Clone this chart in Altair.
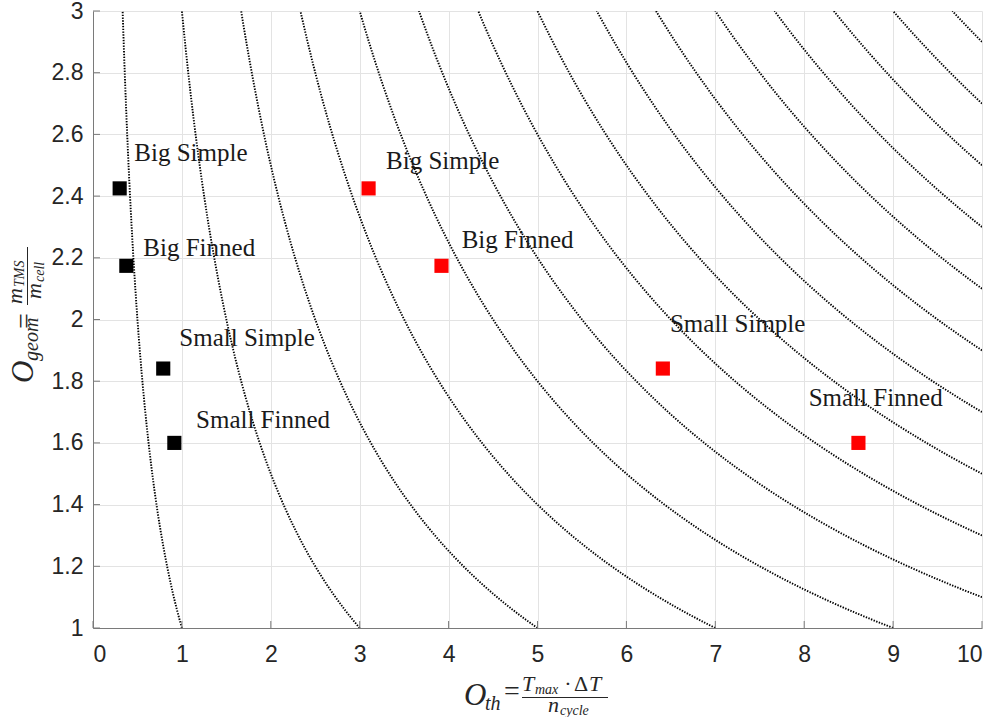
import altair as alt
import numpy as np
import pandas as pd

# ---- data ----
levels = [1, 3, 5, 7, 9, 11, 13, 15, 17, 19, 21, 23, 25, 27, 29]  # O_th * O_geom iso-lines
names = ["Big Simple", "Big Finned", "Small Simple", "Small Finned"]
o_geom = [2.425, 2.174, 1.841, 1.600]
o_th_black = [0.30, 0.375, 0.79, 0.915]
o_th_red = [3.10, 3.92, 6.41, 8.61]
lab_x_black = [0.465, 0.566, 0.971, 1.159]
lab_y_black = [2.513, 2.207, 1.913, 1.648]
lab_x_red = [3.296, 4.147, 6.490, 8.050]
lab_y_red = [2.488, 2.232, 1.961, 1.718]
x_ticks = list(range(0, 11))
y_ticks = [1.0, 1.2, 1.4, 1.6, 1.8, 2.0, 2.2, 2.4, 2.6, 2.8, 3.0]

W, H = 889, 617
xs = alt.Scale(domain=[0, 10], nice=False, zero=False)
ys = alt.Scale(domain=[1, 3], nice=False, zero=False)

# iso-lines x*y = c
rows = []
for c in levels:
    yy = np.linspace(max(1.0, c / 10.0), 3.0, 300)
    for v in yy:
        rows.append({"c": c, "x": c / v, "y": v})
curves = pd.DataFrame(rows)

pts = pd.DataFrame({
    "name": names * 2,
    "x": o_th_black + o_th_red,
    "y": o_geom * 2,
    "grp": ["black"] * 4 + ["red"] * 4,
    "lx": lab_x_black + lab_x_red,
    "ly": lab_y_black + lab_y_red,
})

TXT = "#262626"

curve_layer = alt.Chart(curves).mark_line(
    color="black", strokeWidth=1.9, strokeDash=[1.4, 1.4], clip=True
).encode(
    x=alt.X("x:Q", scale=xs,
            axis=alt.Axis(values=x_ticks, format="d", title=None, grid=True, gridColor="#e3e3e3",
                          domainColor="#7a7a7a", tickSize=0, labelFont="Liberation Sans",
                          labelFontSize=23, labelColor=TXT, labelPadding=15)),
    y=alt.Y("y:Q", scale=ys,
            axis=alt.Axis(values=y_ticks, format=".1~f", title=None, grid=True,
                          gridColor="#e3e3e3", domainColor="#7a7a7a", tickSize=0,
                          labelFont="Liberation Sans", labelFontSize=23, labelColor=TXT,
                          labelPadding=10)),
    detail="c:N",
    order="y:Q",
)

square_layer = alt.Chart(pts).mark_point(shape="square", filled=True, size=200, opacity=1).encode(
    x=alt.X("x:Q", scale=xs),
    y=alt.Y("y:Q", scale=ys),
    color=alt.Color("grp:N", scale=alt.Scale(domain=["black", "red"], range=["#000000", "#ff0000"]),
                    legend=None),
)

label_layer = alt.Chart(pts).mark_text(
    font="Liberation Serif", fontSize=25, align="left", baseline="alphabetic", color="#1a1a1a"
).encode(
    x=alt.X("lx:Q", scale=xs),
    y=alt.Y("ly:Q", scale=ys),
    text="name:N",
)

tick_color = "#7a7a7a"
xtick_layer = alt.Chart(pd.DataFrame({"t": x_ticks})).mark_rule(color=tick_color, strokeWidth=1).encode(
    x=alt.X("t:Q", scale=xs), y=alt.value(H), y2=alt.value(H - 7)
)
ytick_layer = alt.Chart(pd.DataFrame({"t": y_ticks})).mark_rule(color=tick_color, strokeWidth=1).encode(
    y=alt.Y("t:Q", scale=ys), x=alt.value(0), x2=alt.value(7)
)

one = pd.DataFrame({"k": [0]})


def piece(text, x, y, size, italic=True, angle=0, align="left"):
    kw = dict(text=text, fontSize=size, font="Liberation Serif",
              fontStyle="italic" if italic else "normal", align=align,
              baseline="alphabetic", color=TXT)
    if angle:
        kw["angle"] = angle
    return alt.Chart(one).mark_text(**kw).encode(x=alt.value(x), y=alt.value(y))


def bar(x1, x2, y1, y2):
    return alt.Chart(one).mark_rule(color=TXT, strokeWidth=1).encode(
        x=alt.value(x1), x2=alt.value(x2), y=alt.value(y1), y2=alt.value(y2))


# x-axis title: O_th = (T_max . ΔT) / n_cycle
xtitle = [
    piece("O", 371, 694, 31),
    piece("th", 392, 699, 20),
    piece("=", 411, 689, 28, italic=False),
    piece("T", 429, 680, 22),
    piece("max", 442, 683, 14),
    piece("·", 475, 680, 22, italic=False, align="center"),
    piece("Δ", 481, 680, 22, italic=False),
    piece("T", 496, 680, 22),
    bar(429, 515, 686.5, 686.5),
    piece("n", 455, 701, 22),
    piece("cycle", 467, 704, 14),
]

# y-axis title: O_geom = m_TMS / m_cell (rotated)
ytitle = [
    piece("O", -60, 372, 31, angle=270),
    piece("geom", -55, 350, 20, angle=270),
    piece("=", -60, 318, 28, italic=False, angle=270),
    piece("m", -71.5, 293, 22, angle=270),
    piece("TMS", -69, 276, 14, angle=270),
    bar(-65.5, -65.5, 236, 294),
    piece("m", -52, 288, 22, angle=270),
    piece("cell", -49.5, 271, 14, angle=270),
]

chart = alt.layer(
    curve_layer, square_layer, label_layer, xtick_layer, ytick_layer, *xtitle, *ytitle
).properties(
    width=W, height=H,
    autosize=alt.AutoSizeParams(type="none"),
    padding={"left": 93, "top": 11, "right": 18, "bottom": 89},
    background="white",
).configure_view(stroke=None)

chart.save("out.html", embed_options={"renderer": "svg", "actions": False})
